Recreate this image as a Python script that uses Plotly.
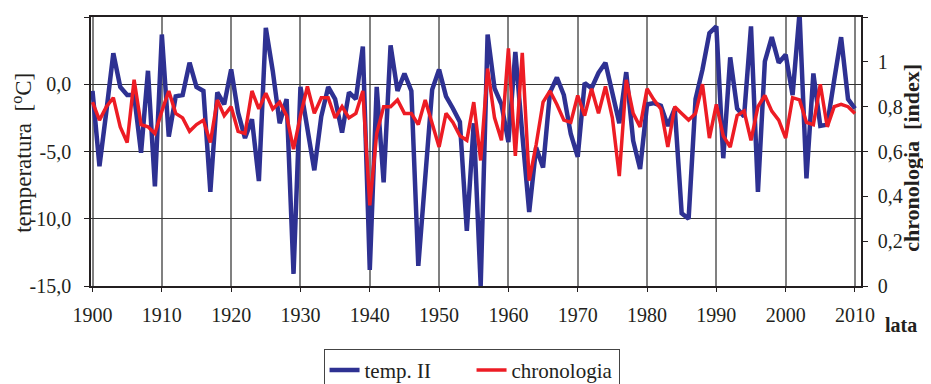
import plotly.graph_objects as go

years = list(range(1900, 2011))

temp_II = [
    -0.5, -6.1, -2.0, 2.3, -0.2, -0.8, -0.8, -5.1, 1.0, -7.6,
    3.7, -3.9, -0.9, -0.8, 1.6, -0.2, -0.5, -8.0, -0.6, -1.5,
    1.1, -2.1, -4.0, -2.6, -7.2, 4.2, 1.0, -2.9, -1.1, -14.1,
    -0.2, -3.3, -6.4, -2.4, -0.2, -1.1, -3.6, -0.6, -1.1, 2.8,
    -13.8, -0.2, -7.3, 2.9, -0.5, 0.8, -0.5, -13.5, -7.0, -0.4,
    1.1, -0.9, -1.8, -2.8, -10.9, -2.9, -15.0, 3.7, -0.3, -1.5,
    -4.3, 2.4, -3.7, -9.5, -4.7, -6.2, -0.6, 0.5, -0.8, -3.7,
    -5.4, 0.1, -0.3, 0.85, 1.6, -0.8, -2.9, 0.9, -4.2, -6.3,
    -1.5, -1.4, -1.6, -3.1, -1.8, -9.6, -10.0, -1.1, 1.1, 3.8,
    4.3, -5.5, 2.0, -1.8, -2.4, 4.3, -8.0, 1.7, 3.5, 1.6,
    2.2, -0.8, 5.3, -7.0, 0.8, -3.1, -3.0, 0.3, 3.5, -1.1,
    -1.8,
]

chronologia = [
    0.82, 0.74, 0.80, 0.84, 0.71, 0.64, 0.92, 0.72, 0.71, 0.68,
    0.78, 0.87, 0.77, 0.75, 0.69, 0.72, 0.74, 0.64, 0.83, 0.76,
    0.80, 0.69, 0.68, 0.87, 0.79, 0.86, 0.79, 0.82, 0.76, 0.61,
    0.76, 0.89, 0.77, 0.84, 0.84, 0.75, 0.80, 0.75, 0.77, 0.87,
    0.36, 0.68, 0.80, 0.80, 0.83, 0.77, 0.77, 0.72, 0.83, 0.72,
    0.62, 0.77, 0.73, 0.67, 0.65, 0.82, 0.56, 0.97, 0.75, 0.65,
    1.06, 0.58, 1.04, 0.47, 0.63, 0.82, 0.87, 0.81, 0.74, 0.73,
    0.85, 0.76, 0.88, 0.77, 0.89, 0.75, 0.49, 0.92, 0.77, 0.71,
    0.88, 0.83, 0.79, 0.62, 0.80, 0.77, 0.74, 0.77, 0.90, 0.66,
    0.81, 0.67, 0.62, 0.76, 0.78, 0.65, 0.80, 0.85, 0.78, 0.74,
    0.66, 0.84, 0.83, 0.73, 0.72, 0.90, 0.71, 0.80, 0.81, 0.80,
    0.77,
]

x_ticks = list(range(1900, 2011, 10))
y_ticks = [-15, -10, -5, 0, 5]
y_tick_text = ["-15,0", "-10,0", "-5,0", "0,0", "5,0"]
y2_ticks = [0, 0.2, 0.4, 0.6, 0.8, 1.0, 1.2]
y2_tick_text = ["0", "0,2", "0,4", "0,6", "0,8", "1", "1,2"]

FONT = "Liberation Serif"
TXT = "#231f20"

fig = go.Figure()
fig.add_trace(go.Scatter(
    x=years, y=temp_II, name="temp. II", mode="lines",
    line=dict(color="#2e3192", width=4.5), yaxis="y"))
fig.add_trace(go.Scatter(
    x=years, y=chronologia, name="chronologia", mode="lines",
    line=dict(color="#ed1c24", width=3.5), yaxis="y2"))

fig.update_layout(
    width=931, height=384,
    margin=dict(l=83, r=78, t=9, b=106, autoexpand=False),
    paper_bgcolor="white", plot_bgcolor="white",
    font=dict(family=FONT, size=20, color=TXT),
    showlegend=True,
    legend=dict(
        orientation="h", x=0.302, y=-0.234, xanchor="left", yanchor="top",
        bordercolor="#444", borderwidth=1, font=dict(size=21, family=FONT, color=TXT),
        bgcolor="white", entrywidth=102, entrywidthmode="pixels",
    ),
    xaxis=dict(
        range=[1899.78, 2010.87], tickvals=x_ticks, ticktext=[str(v) for v in x_ticks],
        showgrid=True, gridcolor="#808080", gridwidth=1.5,
        showline=True, linecolor="#231f20", linewidth=1.5, mirror=True,
        ticks="outside", ticklen=4, tickcolor="#231f20", zeroline=False,
        ticklabelstandoff=6,
        tickfont=dict(size=20, family=FONT, color=TXT),
    ),
    yaxis=dict(
        range=[-15, 5], tickvals=y_ticks, ticktext=y_tick_text,
        showgrid=True, gridcolor="#333333", gridwidth=1.3,
        showline=True, linecolor="#231f20", linewidth=1.5,
        ticks="outside", ticklen=5, tickcolor="#231f20", zeroline=False,
        ticklabelstandoff=9,
        tickfont=dict(size=20, family=FONT, color=TXT),
    ),
    yaxis2=dict(
        range=[0, 1.2], tickvals=y2_ticks, ticktext=y2_tick_text,
        overlaying="y", side="right", showgrid=False,
        showline=True, linecolor="#231f20", linewidth=1.5,
        ticks="outside", ticklen=5, tickcolor="#231f20", zeroline=False,
        ticklabelstandoff=6,
        tickfont=dict(size=20, family=FONT, color=TXT),
    ),
    annotations=[
        dict(text="temperatura  [<sup>o</sup>C]", xref="paper", yref="paper",
             x=-0.09, y=0.494, xanchor="center", yanchor="middle",
             textangle=-90, showarrow=False, font=dict(size=23, family=FONT, color=TXT)),
        dict(text="<b>chronologia  [index]</b>", xref="paper", yref="paper",
             x=1.066, y=0.476, xanchor="center", yanchor="middle",
             textangle=-90, showarrow=False, font=dict(size=22, family=FONT, color=TXT)),
        dict(text="<b>lata</b>", xref="paper", yref="paper",
             x=1.052, y=-0.145, xanchor="center", yanchor="middle",
             showarrow=False, font=dict(size=20, family=FONT, color=TXT)),
    ],
)

fig.write_html("out.html")
